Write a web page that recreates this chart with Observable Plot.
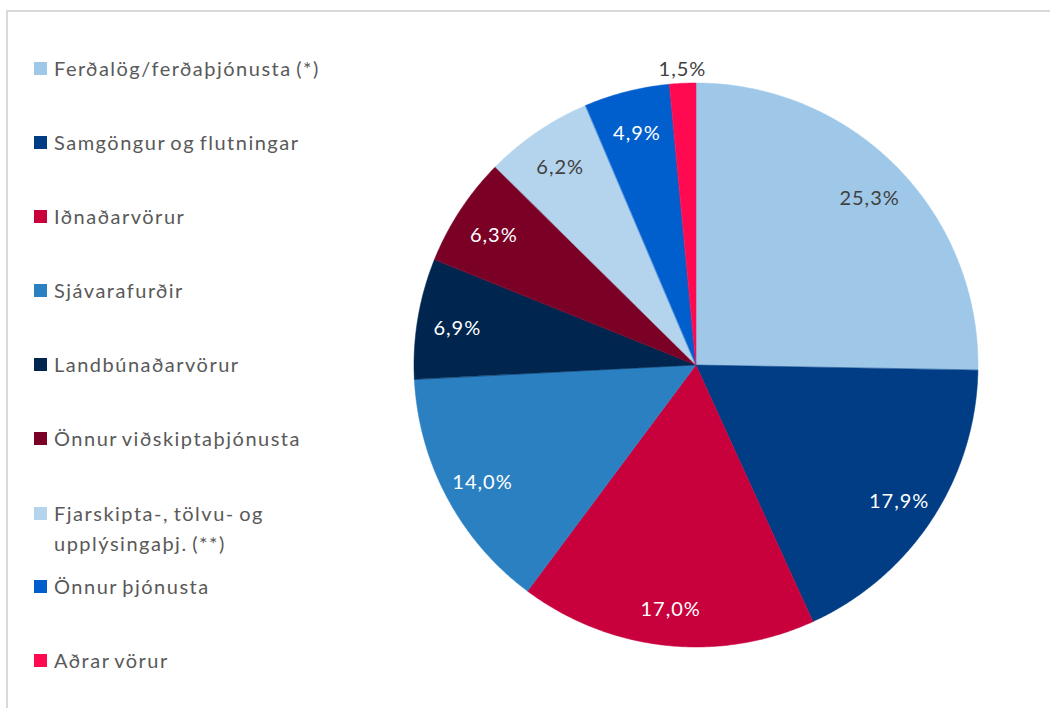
<!DOCTYPE html>
<html>
<head>
<meta charset="utf-8">
<script src="https://cdn.jsdelivr.net/npm/d3@7"></script>
<script src="https://cdn.jsdelivr.net/npm/@observablehq/plot@0.6"></script>
<style>
  html, body { margin: 0; padding: 0; background: #fff; }
  #wrap { position: relative; width: 1051px; height: 708px; overflow: hidden; font-family: Lato, "Open Sans", sans-serif; }
  #frame { position: absolute; left: 6px; top: 10px; width: 1044px; height: 720px; border-left: 2px solid #d9d9d9; border-top: 2px solid #d9d9d9; box-sizing: border-box; }
  #chart { position: absolute; left: 0; top: 0; }
  #legend { position: absolute; left: 34px; top: 0; }
  .item { position: absolute; left: 0; display: flex; align-items: flex-start; color: #595959; font-size: 20px; line-height: 30px; letter-spacing: 1.5px; word-spacing: -2px; white-space: nowrap; }
  .sw { width: 13px; height: 13px; margin-top: 9px; margin-right: 7px; flex: none; }
</style>
</head>
<body>
<div id="wrap">
  <div id="frame"></div>
  <div id="chart"></div>
  <div id="legend"></div>
</div>
<script>
const categories = [
  "Ferðalög/ferðaþjónusta (*)",
  "Samgöngur og flutningar",
  "Iðnaðarvörur",
  "Sjávarafurðir",
  "Landbúnaðarvörur",
  "Önnur viðskiptaþjónusta",
  "Fjarskipta-, tölvu- og upplýsingaþj. (**)",
  "Önnur þjónusta",
  "Aðrar vörur"
];
const legendLines = [
  ["Ferðalög/ferðaþjónusta (*)"],
  ["Samgöngur og flutningar"],
  ["Iðnaðarvörur"],
  ["Sjávarafurðir"],
  ["Landbúnaðarvörur"],
  ["Önnur viðskiptaþjónusta"],
  ["Fjarskipta-, tölvu- og", "upplýsingaþj. (**)"],
  ["Önnur þjónusta"],
  ["Aðrar vörur"]
];
const values = [25.3, 17.9, 17.0, 14.0, 6.9, 6.3, 6.2, 4.9, 1.5];
const colors = ["#9fc8e8", "#003d85", "#c8003c", "#2b80c2", "#00264f", "#7a0026", "#b4d4ee", "#005fcc", "#ff0a50"];
const darkLabels = ["Ferðalög/ferðaþjónusta (*)", "Fjarskipta-, tölvu- og upplýsingaþj. (**)", "Aðrar vörur"];

// Build wedge outlines (center baseline, arc topline) from the values
const total = d3.sum(values);
const arcRows = [];
const labelRows = [];
let acc = 0;
categories.forEach((cat, i) => {
  const a0 = acc / total * 2 * Math.PI;
  acc += values[i];
  const a1 = acc / total * 2 * Math.PI;
  const n = Math.max(2, Math.ceil((a1 - a0) / (Math.PI / 360)));
  for (let k = 0; k <= n; k++) {
    const a = a0 + (a1 - a0) * k / n;
    arcRows.push({cat, x1: 0, y1: 0, x2: Math.sin(a), y2: Math.cos(a)});
  }
  const mid = (a0 + a1) / 2;
  const r = values[i] < 3 ? 1.06 : 0.86;
  labelRows.push({
    cat,
    x: r * Math.sin(mid),
    y: r * Math.cos(mid),
    text: values[i].toFixed(1).replace(".", ",") + "%",
    dark: darkLabels.includes(cat)
  });
});

const cx = 696, cy = 365, R = 282;
const chart = Plot.plot({
  width: 1051,
  height: 708,
  margin: 0,
  style: {background: "transparent", fontFamily: "Lato, 'Open Sans', sans-serif"},
  x: {domain: [-1, 1], range: [cx - R, cx + R], axis: null},
  y: {domain: [-1, 1], range: [cy + R, cy - R], axis: null},
  color: {domain: categories, range: colors},
  marks: [
    Plot.area(arcRows, {x1: "x1", y1: "y1", x2: "x2", y2: "y2", z: "cat", fill: "cat", stroke: "cat", strokeWidth: 0.5, curve: "linear"}),
    Plot.text(labelRows.filter(d => !d.dark), {x: "x", y: "y", text: "text", fill: "white", fontSize: 20, dy: 3}),
    Plot.text(labelRows.filter(d => d.dark), {x: "x", y: "y", text: "text", fill: "#404040", fontSize: 20, dy: 3})
  ]
});
chart.querySelectorAll("text").forEach(t => t.setAttribute("letter-spacing", "1"));
document.getElementById("chart").appendChild(chart);

// Legend
const legend = document.getElementById("legend");
const centers = [68, 142, 216, 290, 364, 438, 513, 586, 660];
categories.forEach((cat, i) => {
  const item = document.createElement("div");
  item.className = "item";
  item.style.top = (centers[i] - 15) + "px";
  const sw = document.createElement("div");
  sw.className = "sw";
  sw.style.background = colors[i];
  const tx = document.createElement("div");
  tx.innerHTML = legendLines[i].join("<br>");
  item.appendChild(sw);
  item.appendChild(tx);
  legend.appendChild(item);
});
</script>
</body>
</html>
